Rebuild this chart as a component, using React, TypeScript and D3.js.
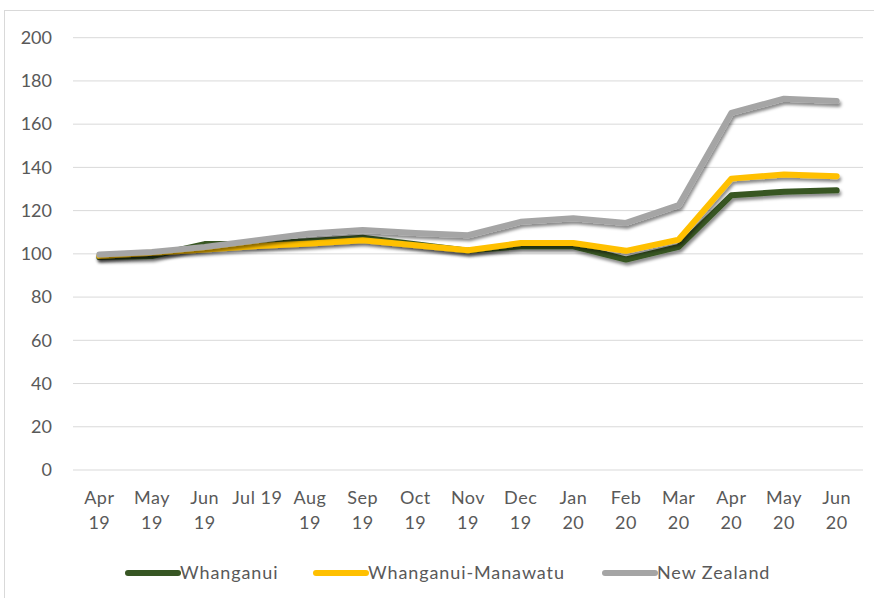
import * as d3 from 'd3';
import React, { useEffect, useRef } from 'react';

const months = [
  'Apr 19', 'May 19', 'Jun 19', 'Jul 19', 'Aug 19', 'Sep 19', 'Oct 19', 'Nov 19',
  'Dec 19', 'Jan 20', 'Feb 20', 'Mar 20', 'Apr 20', 'May 20', 'Jun 20',
];
// x tick labels as drawn (Excel wraps all but "Jul 19")
const monthLines = [
  ['Apr', '19'], ['May', '19'], ['Jun', '19'], ['Jul 19'], ['Aug', '19'], ['Sep', '19'],
  ['Oct', '19'], ['Nov', '19'], ['Dec', '19'], ['Jan', '20'], ['Feb', '20'], ['Mar', '20'],
  ['Apr', '20'], ['May', '20'], ['Jun', '20'],
];
const whanganui = [98.5, 99, 104.5, 104.5, 106, 107.5, 104.5, 101.5, 103.5, 103.5, 97.4, 103.2, 127.1, 128.7, 129.4];
const whanganuiManawatu = [99, 100.5, 102, 103.6, 104.8, 106.3, 104, 101.7, 105, 105, 101.4, 106.6, 134.8, 136.7, 135.9];
const newZealand = [99.7, 100.9, 103.2, 106.3, 109.4, 111, 109.7, 108.6, 114.8, 116.5, 114.3, 122.5, 165.2, 171.8, 170.7];
const yTicks = [0, 20, 40, 60, 80, 100, 120, 140, 160, 180, 200];

const series = [
  { name: 'Whanganui', values: whanganui, color: '#375623' },
  { name: 'Whanganui-Manawatu', values: whanganuiManawatu, color: '#FFC000' },
  { name: 'New Zealand', values: newZealand, color: '#A5A5A5' },
];

const W = 874;
const H = 598;
const font = 'Lato, "Open Sans", sans-serif';
const textColor = '#595959';

export default function App() {
  const svgRef = useRef<SVGSVGElement | null>(null);

  useEffect(() => {
    if (!svgRef.current) return;
    const svg = d3.select(svgRef.current);
    svg.selectAll('*').remove();

    const left = 73;
    const right = 863;
    const top = 37.7;
    const bottom = 470;

    const defs = svg.append('defs');
    const filter = defs.append('filter').attr('id', 'shadow')
      .attr('x', '-10%').attr('y', '-30%').attr('width', '120%').attr('height', '160%');
    filter.append('feDropShadow')
      .attr('dx', 1.5).attr('dy', 3).attr('stdDeviation', 1.8)
      .attr('flood-color', '#000').attr('flood-opacity', 0.45);

    // chart area frame
    svg.append('rect')
      .attr('x', 4.5).attr('y', 10.5).attr('width', 900).attr('height', 700)
      .attr('fill', '#fff').attr('stroke', '#d9d9d9').attr('stroke-width', 1);

    const x = d3.scaleBand().domain(months).range([left, right]);
    const y = d3.scaleLinear().domain([0, 200]).range([bottom, top]);

    // grid lines
    svg.append('g')
      .selectAll('line')
      .data(yTicks)
      .enter()
      .append('line')
      .attr('x1', left).attr('x2', right)
      .attr('y1', (d) => y(d)).attr('y2', (d) => y(d))
      .attr('stroke', '#d9d9d9').attr('stroke-width', 1);

    // y labels
    svg.append('g')
      .selectAll('text')
      .data(yTicks)
      .enter()
      .append('text')
      .attr('x', 52).attr('y', (d) => y(d))
      .attr('dy', '0.35em')
      .attr('text-anchor', 'end')
      .style('font-family', font).style('font-size', '18px')
      .attr('fill', textColor)
      .text((d) => d);

    // x labels
    const xl = svg.append('g')
      .selectAll('text')
      .data(months)
      .enter()
      .append('text')
      .attr('x', (d) => x(d)! + x.bandwidth() / 2)
      .attr('y', 504)
      .attr('text-anchor', 'middle')
      .style('font-family', font).style('font-size', '18px')
      .style('letter-spacing', '0.5px')
      .attr('fill', textColor);
    xl.selectAll('tspan')
      .data((d, i) => monthLines[i])
      .enter()
      .append('tspan')
      .attr('x', function () {
        return (this as SVGTSpanElement).parentElement!.getAttribute('x');
      })
      .attr('dy', (d, i) => (i === 0 ? 0 : 25))
      .text((d) => d);

    const line = d3.line<number>()
      .x((d, i) => x(months[i])! + x.bandwidth() / 2)
      .y((d) => y(d));

    svg.append('g')
      .selectAll('path')
      .data(series)
      .enter()
      .append('path')
      .attr('d', (d) => line(d.values))
      .attr('fill', 'none')
      .attr('stroke', (d) => d.color)
      .attr('stroke-width', 6)
      .attr('stroke-linecap', 'round')
      .attr('stroke-linejoin', 'round')
      .attr('filter', 'url(#shadow)');

    // legend
    const legendX = [128, 316, 605];
    const lg = svg.append('g')
      .selectAll('g')
      .data(series)
      .enter()
      .append('g')
      .attr('transform', (d, i) => `translate(${legendX[i]},573)`);
    lg.append('line')
      .attr('x1', 0).attr('x2', 50).attr('y1', 0).attr('y2', 0)
      .attr('stroke', (d) => d.color).attr('stroke-width', 6).attr('stroke-linecap', 'round');
    lg.append('text')
      .attr('x', 52).attr('dy', '0.35em')
      .style('font-family', font).style('font-size', '18px')
      .style('letter-spacing', '0.9px')
      .attr('fill', textColor)
      .text((d) => d.name);
  }, []);

  return (
    <svg
      ref={svgRef}
      width={W}
      height={H}
      style={{ position: 'absolute', left: 0, top: 0, display: 'block', background: '#fff' }}
    ></svg>
  );
}
